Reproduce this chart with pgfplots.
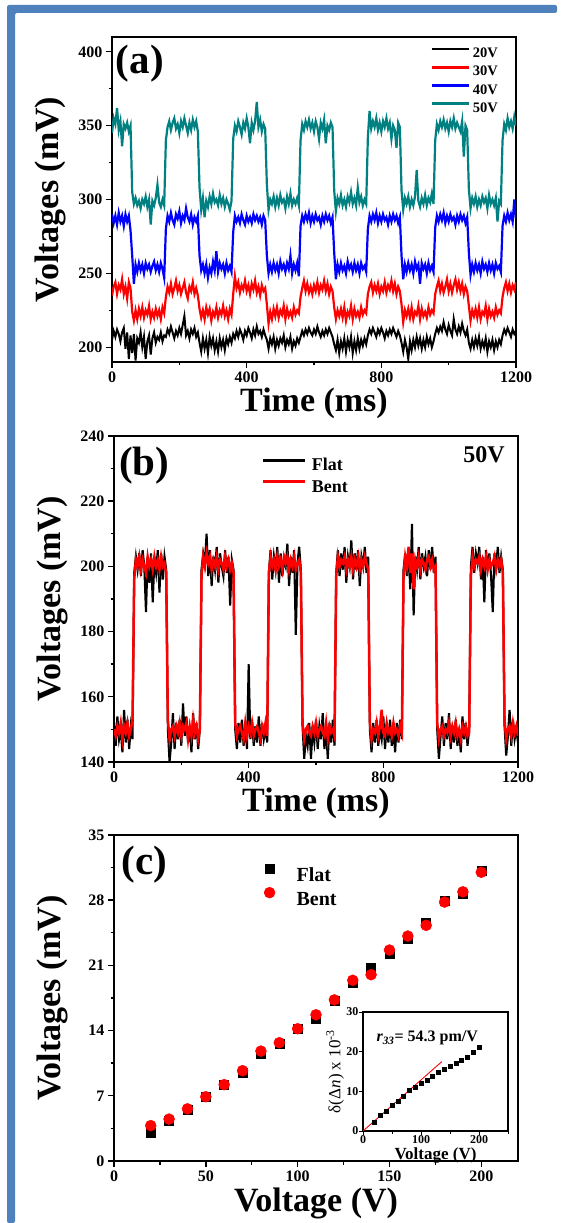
\documentclass[border=0pt]{standalone}
\usepackage{pgfplots}
\pgfplotsset{compat=1.18}
\usepackage{pgfplotstable}
\usepackage{fontspec}
\setmainfont{Liberation Serif}
\definecolor{frameblue}{RGB}{79,129,189}
\definecolor{teal50}{RGB}{0,128,128}
\newcommand\fs[1]{\fontsize{#1bp}{#1bp}\selectfont\bfseries}
\newcommand\fn[1]{\fontsize{#1bp}{#1bp}\selectfont}

\pgfplotstableread{
t v20 v30 v40 v50
0 205 235 290 345
5 211 241 284 355
10 207 244 289 351
15 212 236 283 362
20 209 242 291 347
25 204 239 285 353
30 210 246 289 336
35 213 236 282 351
40 199 241 290 348
45 210 233 285 352
50 192 244 289 346
55 208 240 279 350
60 196 224 262 305
65 209 218 243 297
70 191 225 256 301
75 206 219 251 296
80 203 226 257 299
85 210 221 252 294
90 200 227 256 300
95 207 220 250 297
100 192 225 257 302
105 204 222 253 295
110 208 228 256 300
115 195 219 251 283
120 206 224 255 299
125 210 220 258 296
130 203 226 252 301
135 207 221 256 310
140 205 225 251 298
145 210 219 257 295
150 204 227 253 300
155 208 223 247 296
160 207 234 280 340
165 212 241 289 349
170 209 237 285 353
175 214 243 291 347
180 210 236 286 352
185 206 240 283 355
190 211 245 290 348
195 208 238 287 351
200 213 242 292 345
205 209 236 284 353
210 215 240 289 349
215 221 244 286 355
220 208 237 294 350
225 211 233 288 345
230 206 241 285 352
235 212 238 290 347
240 209 244 283 354
245 213 236 288 349
250 207 240 285 353
255 210 235 289 346
260 203 226 262 308
265 197 220 252 293
270 206 225 256 301
275 199 219 250 288
280 205 227 256 299
285 196 222 247 295
290 207 226 254 302
295 201 218 250 297
300 206 224 258 304
305 198 221 252 298
310 204 227 265 300
315 197 220 251 296
320 206 225 257 303
325 200 222 253 297
330 205 228 256 301
335 198 221 250 295
340 206 225 257 300
345 202 219 252 297
350 207 226 255 293
355 203 222 251 299
360 209 236 278 341
365 206 248 289 350
370 211 240 285 346
375 207 244 288 353
380 212 237 284 349
385 209 242 290 344
390 205 239 286 352
395 211 245 283 348
400 208 238 289 355
405 213 242 285 349
410 210 236 288 338
415 206 243 284 352
420 212 239 290 347
425 208 245 286 353
430 214 237 289 366
435 209 241 285 349
440 211 235 288 354
445 207 242 283 346
450 212 238 289 351
455 208 240 286 348
460 205 229 262 310
465 199 216 250 293
470 206 224 256 300
475 202 219 251 297
480 207 226 257 302
485 199 221 252 295
490 205 227 256 301
495 201 220 250 296
500 206 225 258 303
505 203 222 253 298
510 208 228 256 300
515 200 219 251 294
520 205 226 257 302
525 202 221 253 297
530 207 224 262 304
535 199 220 250 296
540 204 227 256 300
545 201 222 252 297
550 206 225 257 301
555 203 223 248 296
560 207 234 282 340
565 211 240 289 351
570 208 245 285 347
575 212 238 290 353
580 209 243 286 349
585 213 237 291 354
590 210 241 284 348
595 208 236 289 352
600 212 242 285 346
605 209 238 290 353
610 214 244 286 349
615 210 237 288 341
620 207 242 283 352
625 211 239 289 348
630 208 245 285 354
635 212 238 290 338
640 209 243 286 350
645 213 236 289 347
650 210 241 284 352
655 207 238 288 349
660 202 227 264 306
665 198 219 246 292
670 205 225 256 301
675 196 221 251 297
680 204 226 257 303
685 199 220 252 296
690 206 227 255 300
695 197 218 250 295
700 205 224 258 302
705 200 221 253 298
710 207 228 256 305
715 196 219 251 297
720 204 226 257 301
725 198 221 252 296
730 206 224 256 308
735 199 220 250 298
740 205 227 257 302
745 201 222 253 296
750 206 225 255 300
755 202 223 251 297
760 208 236 280 342
765 212 241 289 360
770 209 244 285 348
775 213 237 290 353
780 210 242 286 349
785 207 238 291 355
790 212 243 284 347
795 209 236 289 352
800 213 241 285 346
805 210 238 290 353
810 206 244 286 349
815 211 237 288 355
820 208 242 283 348
825 212 239 289 352
830 209 245 285 341
835 213 238 290 350
840 210 243 286 347
845 207 236 289 335
850 211 241 284 352
855 208 238 288 349
860 203 229 262 306
865 197 217 246 293
870 205 225 256 301
875 200 221 251 297
880 192 226 257 302
885 204 220 252 295
890 198 227 256 300
895 205 219 250 296
900 200 224 258 302
905 207 222 253 320
910 201 228 256 299
915 206 219 243 295
920 199 226 257 301
925 205 221 253 297
930 200 224 256 303
935 207 220 250 296
940 202 227 257 301
945 206 222 252 298
950 200 225 255 304
955 204 223 251 297
960 209 236 281 340
965 213 241 289 351
970 210 245 285 347
975 214 238 290 353
980 211 243 286 349
985 217 237 291 354
990 212 241 284 348
995 209 246 289 352
1000 215 238 285 346
1005 211 243 290 353
1010 208 237 286 349
1015 219 242 288 355
1020 212 246 283 348
1025 209 239 289 352
1030 214 244 285 349
1035 210 238 290 346
1040 216 243 286 353
1045 211 236 289 329
1050 208 241 284 350
1055 212 238 288 347
1060 203 228 264 307
1065 199 218 249 294
1070 205 225 256 301
1075 200 221 251 297
1080 206 226 257 302
1085 201 220 252 295
1090 207 227 256 300
1095 199 219 250 296
1100 204 224 258 302
1105 200 222 253 298
1110 206 228 256 301
1115 197 219 251 294
1120 204 226 257 303
1125 200 221 252 297
1130 205 224 256 300
1135 198 220 250 296
1140 204 227 257 301
1145 200 222 253 285
1150 205 225 255 299
1155 202 223 251 297
1160 208 234 282 340
1165 212 240 289 351
1170 209 244 285 347
1175 213 238 291 355
1180 210 243 286 349
1185 207 237 290 353
1190 212 242 285 348
1195 209 239 300 356
1200 211 244 287 350
}\tabA

\pgfplotstableread{
t flat bent
0 152 150
5 145 148
10 154 151
15 147 149
20 150 152
25 143 147
30 156 151
35 146 149
40 153 152
45 144 148
50 151 150
55 147 153
60 198 196
65 203 202
70 199 200
75 204 203
80 197 199
85 205 202
90 200 200
95 186 198
100 203 203
105 195 200
110 204 202
115 189 199
120 202 203
125 198 200
130 205 202
135 192 199
140 204 203
145 196 200
150 203 201
155 199 198
160 150 153
165 140 147
170 146 150
175 155 151
180 144 148
185 152 151
190 147 149
195 153 152
200 145 148
205 158 151
210 148 150
215 154 152
220 146 147
225 151 151
230 143 148
235 155 153
240 147 149
245 152 151
250 144 147
255 150 150
260 199 197
265 204 203
270 201 200
275 210 204
280 197 201
285 205 203
290 194 199
295 203 202
300 199 200
305 206 203
310 195 199
315 204 202
320 200 201
325 197 199
330 205 203
335 198 200
340 203 202
345 188 199
350 202 201
355 199 198
360 150 152
365 144 148
370 152 150
375 146 151
380 153 149
385 145 147
390 151 152
395 144 148
400 170 151
405 147 149
410 153 152
415 145 148
420 151 150
425 146 151
430 154 149
435 145 147
440 152 151
445 147 149
450 150 152
455 146 148
460 198 198
465 205 203
470 196 200
475 203 202
480 199 199
485 206 203
490 195 200
495 204 202
500 197 199
505 202 203
510 200 201
515 207 203
520 194 199
525 203 202
530 198 200
535 205 203
540 179 199
545 201 201
550 206 202
555 199 198
560 151 152
565 141 147
570 148 150
575 145 151
580 152 149
585 141 148
590 150 151
595 146 149
600 153 152
605 144 148
610 151 150
615 147 151
620 155 149
625 144 148
630 150 152
635 141 147
640 152 151
645 146 149
650 153 150
655 145 148
660 198 197
665 205 203
670 197 200
675 204 202
680 199 201
685 206 203
690 195 199
695 203 202
700 200 200
705 208 203
710 196 199
715 204 202
720 199 200
725 205 203
730 194 199
735 203 202
740 200 200
745 206 203
750 198 201
755 203 199
760 150 152
765 143 147
770 152 150
775 146 149
780 153 152
785 145 148
790 150 151
795 147 156
800 154 149
805 144 148
810 151 152
815 146 149
820 153 150
825 145 148
830 150 152
835 143 149
840 152 150
845 146 148
850 153 151
855 147 149
860 199 197
865 204 203
870 197 200
875 205 206
880 193 198
885 213 204
890 185 193
895 203 202
900 199 200
905 206 203
910 196 199
915 204 202
920 200 201
925 203 199
930 197 202
935 205 203
940 199 200
945 206 202
950 198 199
955 203 200
960 150 152
965 141 147
970 148 150
975 154 151
980 145 148
985 152 150
990 147 149
995 155 152
1000 144 148
1005 151 151
1010 146 149
1015 153 152
1020 145 148
1025 150 150
1030 143 147
1035 154 151
1040 147 149
1045 152 151
1050 145 148
1055 150 149
1060 200 197
1065 206 203
1070 198 200
1075 204 202
1080 201 201
1085 206 203
1090 196 199
1095 203 202
1100 189 200
1105 205 203
1110 199 199
1115 204 202
1120 197 200
1125 186 201
1130 204 203
1135 200 199
1140 206 202
1145 198 200
1150 203 202
1155 199 198
1160 151 153
1165 142 147
1170 148 150
1175 156 151
1180 145 148
1185 153 152
1190 147 149
1195 150 151
1200 146 148
}\tabB

\pgfplotsset{
  mystyle/.style={
    scale only axis, enlargelimits=false,
    axis line style={line width=1.6bp},
    tick style={line width=1.4bp, black},
    tick align=outside, major tick length=6bp, minor tick length=3.5bp,
    xtick pos=left, ytick pos=left,
    ticklabel style={font=\fs{16}},
    /pgf/number format/assume math mode=true,
    /pgf/number format/set thousands separator={},
    label style={font=\fs{34}},
    xlabel style={at={(axis description cs:0.5,0)}, anchor=base, yshift=-50bp},
    ylabel style={at={(axis description cs:-0.153,0.5)}, anchor=center},
    legend cell align=left,
  }
}

\begin{document}
\begin{tikzpicture}
\useasboundingbox (0,0) rectangle (561bp,1223bp);
\fill[frameblue, rounded corners=2bp] (7bp,0bp) -- (7bp,1218bp) -- (557bp,1218bp) -- (557bp,1210bp) -- (15bp,1210bp) -- (15bp,0bp) -- cycle;

% ---------- (a)
\begin{axis}[mystyle, at={(112bp,861bp)}, anchor=south west,
  width=404bp, height=325bp,
  xmin=0, xmax=1200, ymin=190, ymax=410,
  xtick={0,400,800,1200}, ytick={200,250,300,350,400}, minor tick num=1,
  xlabel={Time (ms)}, ylabel={Voltages (mV)},
  legend style={at={(axis description cs:0.787,0.968)}, anchor=north west,
    draw=none, fill=none, inner sep=0pt, row sep=8bp, column sep=3bp,
    font=\fs{14.5}, nodes={inner sep=0pt, text height=10bp, text depth=0bp}},
  legend image code/.code={\draw[#1, line width=2.8bp] (0bp,3.8bp) -- (37bp,3.8bp);},
]
\addplot[black, line width=2bp] table[x=t, y=v20] {\tabA};
\addlegendentry{20V}
\addplot[red, line width=2.2bp] table[x=t, y=v30] {\tabA};
\addlegendentry{30V}
\addplot[blue, line width=2.2bp] table[x=t, y=v40] {\tabA};
\addlegendentry{40V}
\addplot[teal50, line width=2.2bp] table[x=t, y=v50] {\tabA};
\addlegendentry{50V}
\node[font=\fs{41}] at (axis description cs:0.069,0.917) {(a)};
\end{axis}

% ---------- (b)
\begin{axis}[mystyle, at={(114bp,461bp)}, anchor=south west,
  width=404bp, height=326bp,
  xmin=0, xmax=1200, ymin=140, ymax=240,
  xtick={0,400,800,1200}, ytick={140,160,...,240}, minor tick num=1,
  xlabel={Time (ms)}, ylabel={Voltages (mV)},
  legend style={at={(axis description cs:0.366,0.932)}, anchor=north west,
    draw=none, fill=none, inner sep=0pt, row sep=9bp, column sep=5bp,
    font=\fs{18}, nodes={inner sep=0pt, text height=12.5bp, text depth=0bp}},
  legend image code/.code={\draw[#1, line width=2.8bp] (0bp,4.5bp) -- (42bp,4.5bp);},
]
\addplot[black, line width=2.1bp] table[x=t, y=flat] {\tabB};
\addlegendentry{Flat}
\addplot[red, line width=2.5bp] table[x=t, y=bent] {\tabB};
\addlegendentry{Bent}
\node[font=\fs{41}] at (axis description cs:0.075,0.908) {(b)};
\node[font=\fs{24}] at (axis description cs:0.916,0.942) {50V};
\end{axis}

% ---------- (c)
\begin{axis}[mystyle, at={(114bp,62bp)}, anchor=south west,
  width=404bp, height=326bp,
  xmin=0, xmax=220, ymin=0, ymax=35,
  xtick={0,50,100,150,200}, ytick={0,7,14,21,28,35}, minor tick num=1,
  xlabel={Voltage (V)}, ylabel={Voltages (mV)},
  legend style={at={(axis description cs:0.371,0.912)}, anchor=north west,
    draw=none, fill=none, inner sep=0pt, row sep=6bp, column sep=15bp,
    font=\fs{20}, nodes={inner sep=0pt, text height=13.5bp, text depth=0bp}},
  legend image code/.code={\path[draw=none, fill=none] (0bp,0bp) rectangle (17bp,1bp); \draw[#1] plot coordinates {(5bp,6bp)};},
]
\addplot[only marks, mark=square*, mark size=4.5bp, black] coordinates {
(20,3.0) (30,4.3) (40,5.5) (50,6.9) (60,8.2) (70,9.5) (80,11.55) (90,12.6)
(100,14.2) (110,15.3) (120,17.2) (130,19.1) (140,20.8) (150,22.3) (160,23.9)
(170,25.6) (180,27.9) (190,28.7) (200,31.2)};
\addlegendentry{Flat}
\addplot[only marks, mark=*, mark size=5.5bp, red] coordinates {
(20,3.8) (30,4.5) (40,5.6) (50,6.9) (60,8.2) (70,9.7) (80,11.8) (90,12.7)
(100,14.2) (110,15.7) (120,17.3) (130,19.4) (140,20.0) (150,22.65) (160,24.15)
(170,25.3) (180,27.8) (190,28.9) (200,31.0)};
\addlegendentry{Bent}
\node[font=\fs{41}] at (axis description cs:0.076,0.908) {(c)};
\end{axis}

% ---------- inset
\begin{axis}[scale only axis, enlargelimits=false, at={(363bp,92bp)}, anchor=south west,
  width=145bp, height=119bp,
  axis background/.style={fill=white},
  xmin=0, xmax=250, ymin=0, ymax=30,
  xtick={0,100,200}, minor xtick={50,150,250}, ytick={0,10,20,30},
  axis line style={line width=1.2bp}, tick style={line width=1bp, black},
  tick align=outside, major tick length=4bp, minor tick length=2.5bp,
  xtick pos=left, ytick pos=left,
  ticklabel style={font=\fs{12}, inner sep=0.5bp},
  /pgf/number format/assume math mode=true,
  xlabel={Voltage (V)},
  xlabel style={font=\fs{17}, at={(axis description cs:0.5,0)}, anchor=base, yshift=-28bp},
  ylabel={δ(Δ\textit{n}) x 10\textsuperscript{-3}},
  ylabel style={font=\fn{17}, at={(axis description cs:-0.193,0.5)}, anchor=center},
]
\addplot[only marks, mark=square*, mark size=2bp, black] coordinates {
(20,2.3) (30,3.9) (40,5.1) (50,6.4) (60,7.6) (70,8.8) (80,10.2) (90,11.0)
(100,12.0) (110,12.9) (120,13.8) (130,14.8) (140,15.6) (150,16.3) (160,17.1)
(170,17.9) (180,18.7) (190,19.9) (200,21.1)};
\addplot[red, line width=0.9bp] coordinates {(0,0) (136,17.5)};
\node[font=\fs{16}, anchor=base west] at (axis description cs:0.069,0.748)
  {\textit{r}\textsubscript{\textit{33}}= 54.3 pm/V};
\end{axis}
\end{tikzpicture}
\end{document}
